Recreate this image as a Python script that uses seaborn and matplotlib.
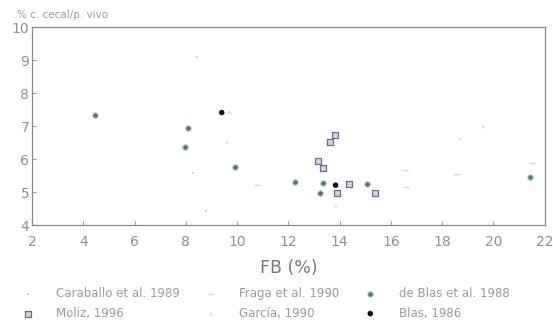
import matplotlib
matplotlib.use("Agg")
import matplotlib.pyplot as plt
import seaborn as sns
import pandas as pd

sns.set_style("white")
plt.rcParams['font.family'] = ['DejaVu Sans']

series_names = ["Caraballo et al. 1989", "Moliz, 1996", "Fraga et al. 1990",
                "García, 1990", "de Blas et al. 1988", "Blas, 1986"]

caraballo_x = [8.42, 8.78, 8.27, 18.68]
caraballo_y = [9.10, 4.43, 5.58, 6.60]
fraga_x = [10.77, 16.56, 16.59, 18.55, 21.50]
fraga_y = [5.20, 5.67, 5.16, 5.56, 5.89]
garcia_x = [9.60, 9.70, 13.84, 19.60]
garcia_y = [6.52, 7.43, 4.60, 7.00]
deblas_x = [4.46, 8.07, 7.96, 9.93, 12.27, 13.23, 15.08, 21.42, 13.35]
deblas_y = [7.35, 6.95, 6.37, 5.75, 5.31, 4.98, 5.23, 5.46, 5.26]
moliz_x = [13.82, 13.62, 13.16, 13.36, 14.36, 13.90, 15.38]
moliz_y = [6.73, 6.52, 5.94, 5.72, 5.23, 4.96, 4.96]
blas_x = [9.40, 13.84]
blas_y = [7.41, 5.21]

xticks = [2, 4, 6, 8, 10, 12, 14, 16, 18, 20, 22]
yticks = [4, 5, 6, 7, 8, 9, 10]

data = {
    "Caraballo et al. 1989": (caraballo_x, caraballo_y),
    "Moliz, 1996": (moliz_x, moliz_y),
    "Fraga et al. 1990": (fraga_x, fraga_y),
    "García, 1990": (garcia_x, garcia_y),
    "de Blas et al. 1988": (deblas_x, deblas_y),
    "Blas, 1986": (blas_x, blas_y),
}

styles = {
    "Caraballo et al. 1989": dict(marker=".", s=10, color="#c8c8c8", edgecolor="none"),
    "Moliz, 1996": dict(marker="s", s=13, color="#d4d4e4", edgecolor="#6c6c88", linewidth=0.9),
    "Fraga et al. 1990": dict(marker="_", s=18, color="#d6d6d6", linewidth=1.0),
    "García, 1990": dict(marker="^", s=10, color="#e2e2e2", edgecolor="none"),
    "de Blas et al. 1988": dict(marker="o", s=16, color="#4f7a6a", edgecolor="#c4d2cc", linewidth=0.7),
    "Blas, 1986": dict(marker="o", s=16, color="#111111", edgecolor="none"),
}

fig = plt.figure(figsize=(5.53, 3.30), dpi=100)
ax = fig.add_axes([0.058, 0.318, 0.927, 0.600])

for name in series_names:
    xs, ys = data[name]
    df = pd.DataFrame({"x": xs, "y": ys})
    sns.scatterplot(data=df, x="x", y="y", ax=ax, label=name, **styles[name])

ax.set_xlim(2, 22)
ax.set_ylim(4, 10)
ax.set_xticks(xticks)
ax.set_yticks(yticks)
ax.set_xticklabels([str(t) for t in xticks])
ax.set_yticklabels([str(t) for t in yticks])
ax.tick_params(axis="both", direction="in", length=3, width=0.8, colors="#999999",
               labelcolor="#8f8f8f", labelsize=10, left=True, bottom=True)
ax.tick_params(axis="x", pad=7)
ax.tick_params(axis="y", pad=2)
for sp in ax.spines.values():
    sp.set_visible(True)
    sp.set_color("#8a8a8a")
    sp.set_linewidth(0.9)
ax.set_xlabel("FB (%)", fontsize=12.5, color="#777777", labelpad=7)
ax.set_ylabel("")
fig.text(0.030, 0.955, "% c. cecal/p. vivo", fontsize=7.5, color="#999999", ha="left", va="center")

leg = ax.legend(loc="upper left", bbox_to_anchor=(-0.04, -0.29), ncol=3, frameon=False,
                fontsize=8.5, handletextpad=1.4, columnspacing=1.6, labelspacing=0.55,
                borderaxespad=0, markerscale=1.0)
for t in leg.get_texts():
    t.set_color("#9a9a9a")

fig.savefig("out.png", dpi=100, facecolor="white")
